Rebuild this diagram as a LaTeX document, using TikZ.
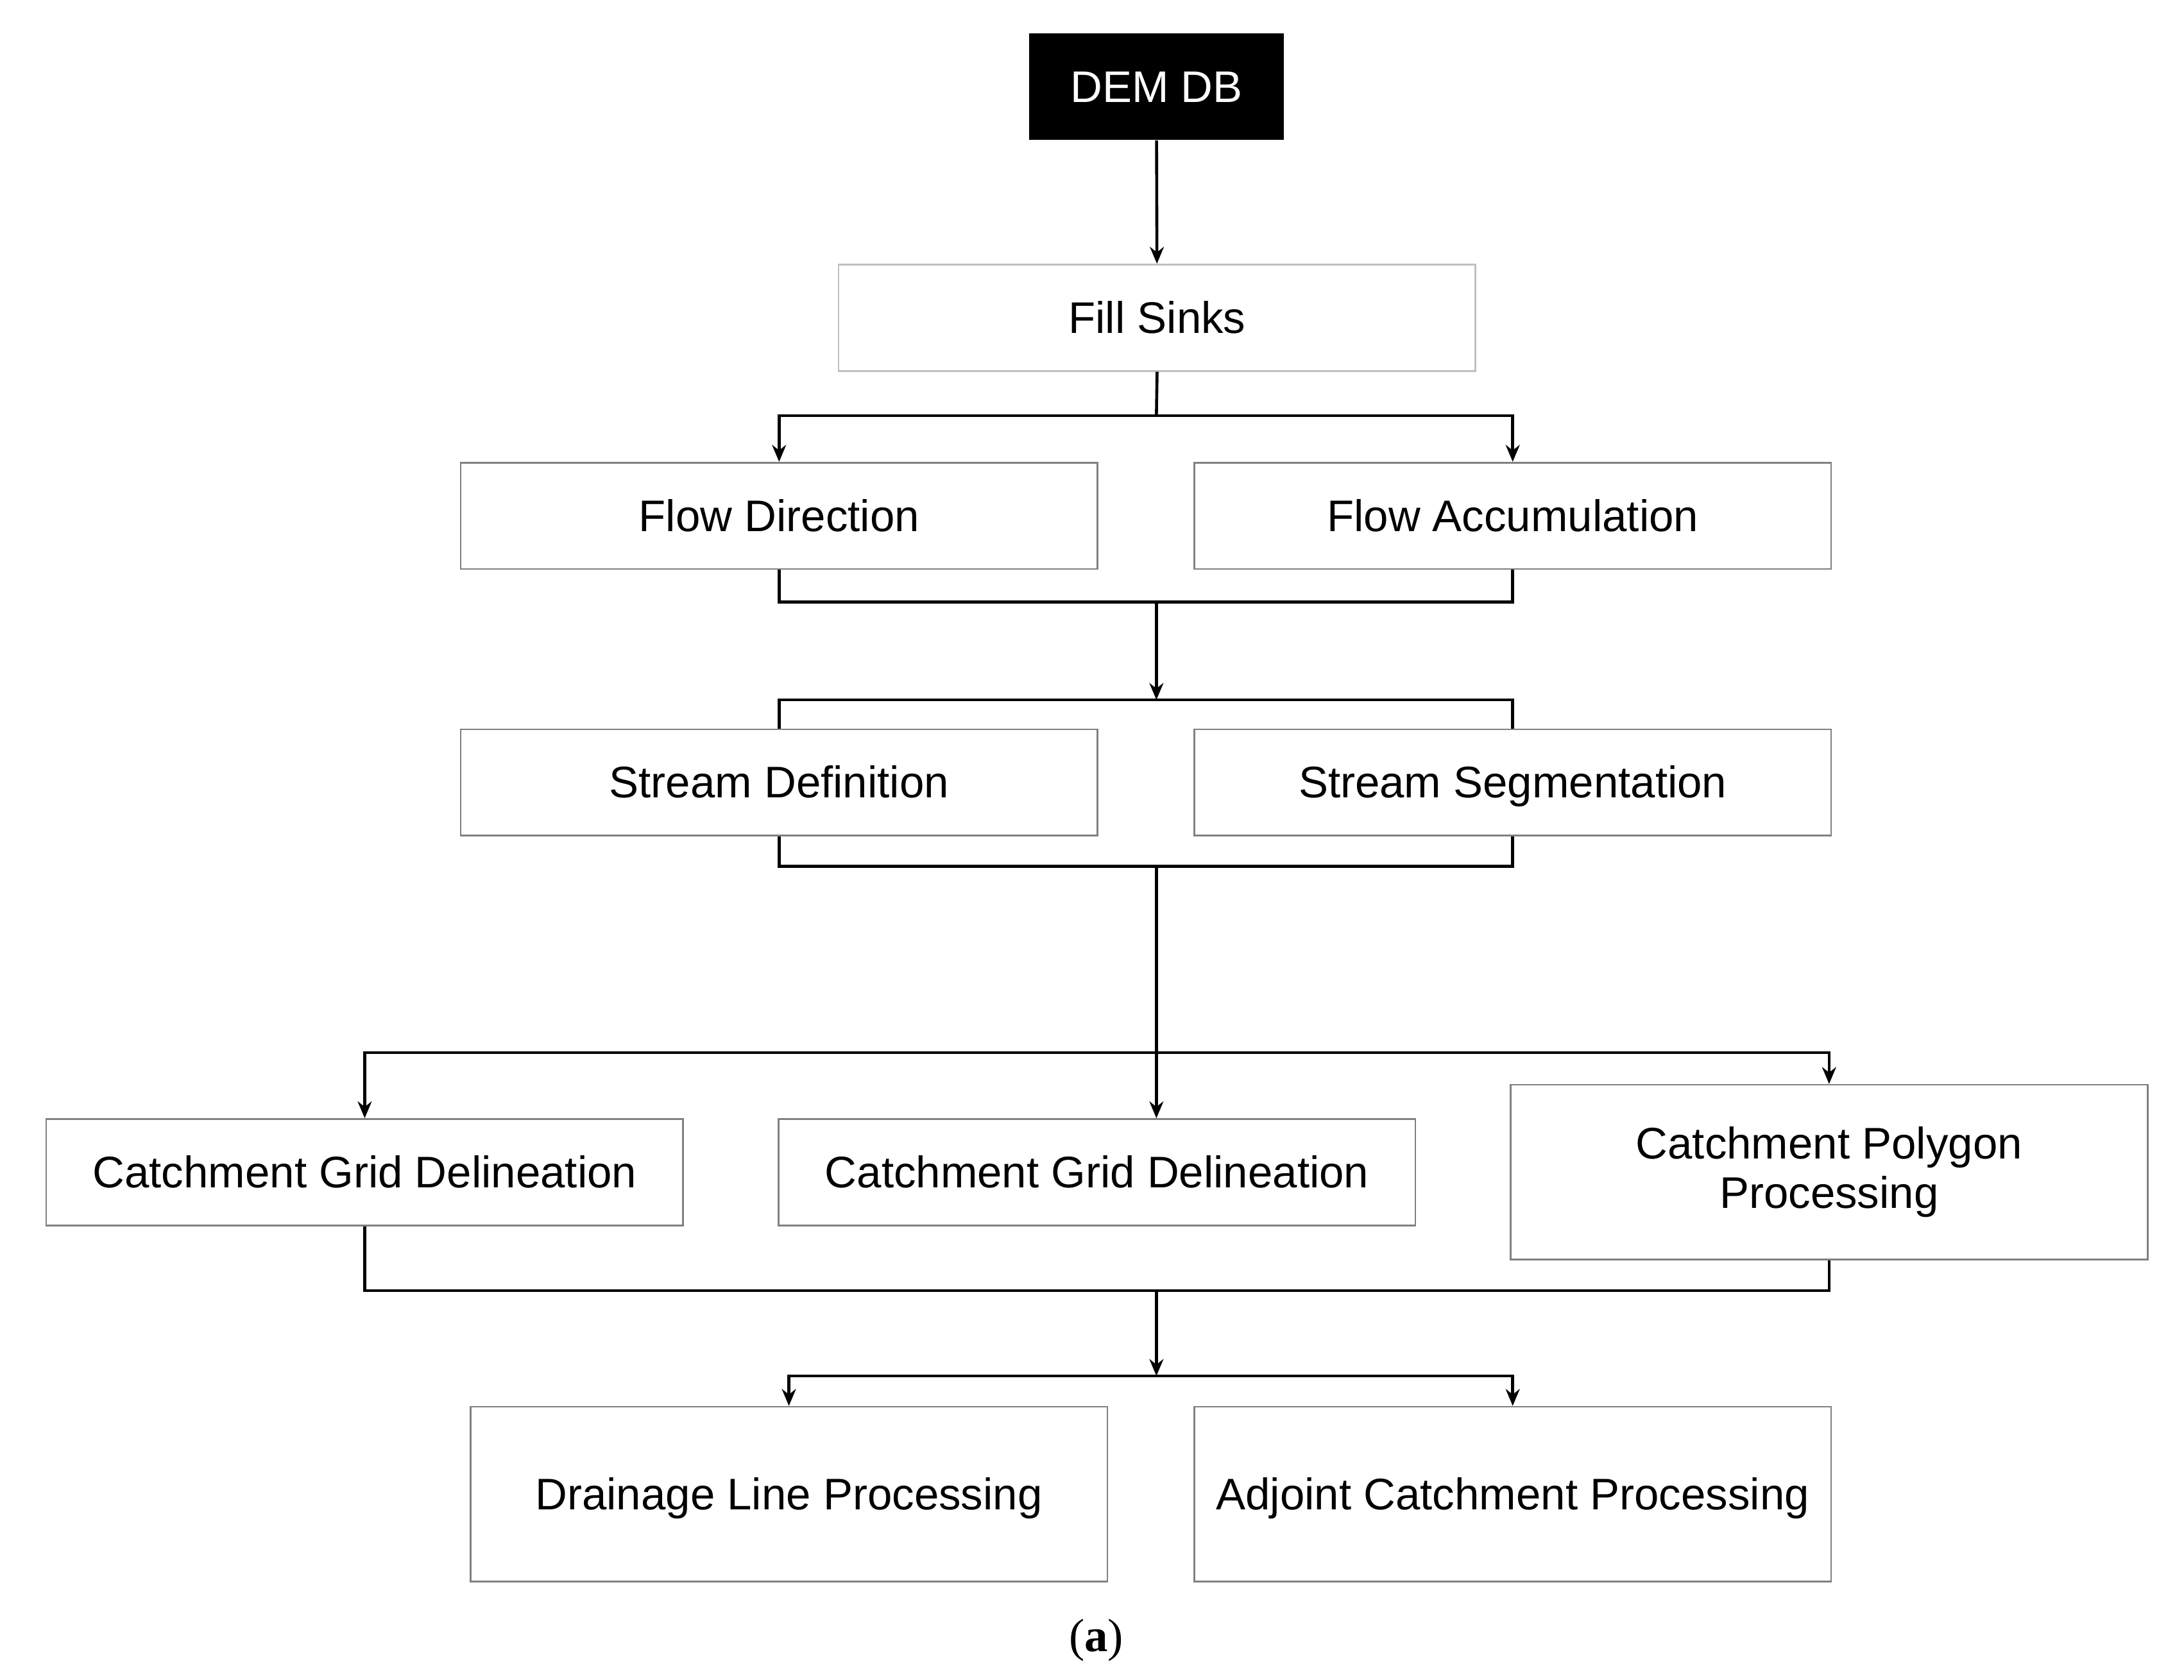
\documentclass[tikz,border=0pt]{standalone}
\usepackage{fontspec}
\setmainfont{Liberation Sans}
\newfontfamily\capserif{Liberation Serif}
\usetikzlibrary{arrows.meta}
\begin{document}
\begin{tikzpicture}[x=0.02cm,y=-0.02cm,
  basebox/.style={draw=black!50,line width=0.7pt,fill=white,minimum width=9.1cm,minimum height=1.52cm,inner sep=0pt,font=\fontsize{18}{21}\selectfont,align=center},
  box/.style={basebox,text height=14.5pt,text depth=2pt},
  tallbox/.style={box,minimum height=2.5cm},
  twoline/.style={basebox,minimum height=2.5cm},
  conn/.style={line width=1.2pt,black},
  arr/.style={conn,-{Stealth[length=0.24cm,width=0.2cm]}}]
\useasboundingbox[fill=white] (0,0) rectangle (1560,1200);
\node[fill=black,text=white,minimum width=3.64cm,minimum height=1.52cm,inner sep=0pt,text height=14.5pt,text depth=2pt,font=\fontsize{18}{21}\selectfont] (dem) at (826,62) {DEM DB};
\node[box,draw=black!25] (fill) at (826.5,227) {Fill Sinks};
\node[box] (fd) at (556.5,368.5) {Flow Direction};
\node[box] (fa) at (1080.5,368.5) {Flow Accumulation};
\node[box] (sd) at (556.5,559) {Stream Definition};
\node[box] (ss) at (1080.5,559) {Stream Segmentation};
\node[box] (cg1) at (260.5,837.5) {Catchment Grid Delineation};
\node[box] (cg2) at (783.5,837.5) {Catchment Grid Delineation};
\node[twoline] (cp) at (1306.5,837.5) {Catchment Polygon\\[-1pt]Processing};
\node[tallbox] (dl) at (563.5,1067.5) {Drainage Line Processing};
\node[tallbox] (ac) at (1080.5,1067.5) {Adjoint Catchment Processing};
\node[font=\capserif\fontsize{19}{22}\selectfont] (cap) at (783,1172) {(\textbf{a})};
\coordinate (j1) at (826,297);
\coordinate (j2) at (826,430);
\coordinate (j3) at (826,500);
\coordinate (j4) at (826,619);
\coordinate (j5) at (826,752);
\coordinate (j6) at (826,922);
\coordinate (j7) at (826,983);
\draw[arr] (dem) -- (fill);
\draw[conn] (fill.south) -- (j1);
\draw[arr] (j1) -| (fd.north);
\draw[arr] (j1) -| (fa.north);
\draw[conn] (fd.south) |- (j2) -| (fa.south);
\draw[arr] (j2) -- (j3);
\draw[conn] (sd.north) |- (j3) -| (ss.north);
\draw[conn] (sd.south) |- (j4) -| (ss.south);
\draw[arr] (j4) -- (j4 |- cg2.north);
\draw[arr] (j5) -| (cg1.north);
\draw[arr] (j5) -| (cp.north);
\draw[conn] (cg1.south) |- (j6) -| (cp.south);
\draw[arr] (j6) -- (j7);
\draw[arr] (j7) -| (dl.north);
\draw[arr] (j7) -| (ac.north);
\end{tikzpicture}
\end{document}
